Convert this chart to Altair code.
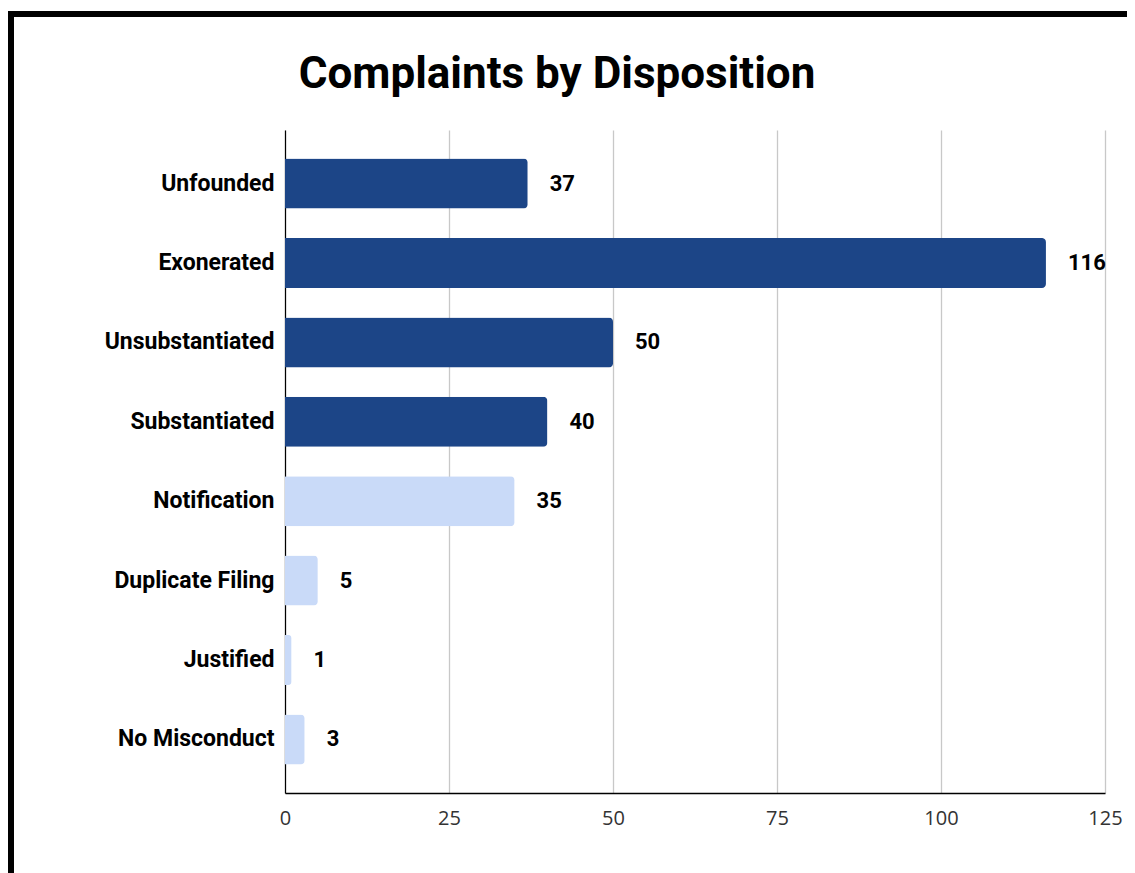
import altair as alt
import pandas as pd

categories = ["Unfounded", "Exonerated", "Unsubstantiated", "Substantiated",
              "Notification", "Duplicate Filing", "Justified", "No Misconduct"]
counts = [37, 116, 50, 40, 35, 5, 1, 3]
groups = ["dark", "dark", "dark", "dark", "light", "light", "light", "light"]
x_ticks = [0, 25, 50, 75, 100, 125]
title_text = ["Complaints by Disposition"]

df = pd.DataFrame({"Disposition": categories, "Count": counts, "Group": groups})

W, H = 820, 663
LBL_FONT = "Roboto"

y_enc = alt.Y("Disposition:N", sort=categories,
              scale=alt.Scale(paddingInner=0.37, paddingOuter=0.36),
              axis=alt.Axis(title=None, ticks=False, labelFont=LBL_FONT,
                            labelFontWeight="bold", labelFontSize=23,
                            labelColor="#000", labelPadding=11,
                            domainColor="#000", domainWidth=1.2, grid=False))
x_enc = alt.X("Count:Q", scale=alt.Scale(domain=[0, 125], nice=False),
              axis=alt.Axis(title=None, values=x_ticks, ticks=False,
                            labelFont="Open Sans", labelFontSize=20,
                            labelColor="#333", labelPadding=15,
                            labelFlush=False,
                            domainColor="#000", domainWidth=1.6,
                            gridColor="#c8c8c8", gridWidth=1.3))

bars = alt.Chart(df).mark_bar(cornerRadiusEnd=4).encode(
    x=x_enc, y=y_enc,
    color=alt.Color("Group:N", scale=alt.Scale(domain=["dark", "light"],
                                                range=["#1c4587", "#c9daf8"]),
                    legend=None),
)

labels = alt.Chart(df).mark_text(align="left", baseline="middle", dx=22,
                                 font=LBL_FONT, fontWeight="bold", fontSize=22,
                                 color="#000").encode(
    x="Count:Q", y=alt.Y("Disposition:N", sort=categories),
    text="Count:Q",
)

title = alt.Chart(pd.DataFrame({"t": title_text})).mark_text(
    align="center", baseline="middle", font=LBL_FONT, fontWeight="bold",
    fontSize=44, color="#000", clip=False).encode(
    x=alt.value(272), y=alt.value(-55), text="t:N"
)

frame = alt.Chart(pd.DataFrame({"k": [0]})).mark_rect(
    fill=None, stroke="#000", strokeWidth=6, clip=False).encode(
    x=alt.value(-274), x2=alt.value(1300), y=alt.value(-116), y2=alt.value(1000)
)

chart = alt.layer(bars, labels, title, frame).properties(
    width=W, height=H,
    background="#ffffff",
    autosize=alt.AutoSizeParams(type="none"),
    padding={"left": 277, "top": 122, "right": 22, "bottom": 80},
).configure_view(stroke="transparent", strokeWidth=0)

chart.save("out.html", embed_options={"renderer": "svg", "actions": False})
